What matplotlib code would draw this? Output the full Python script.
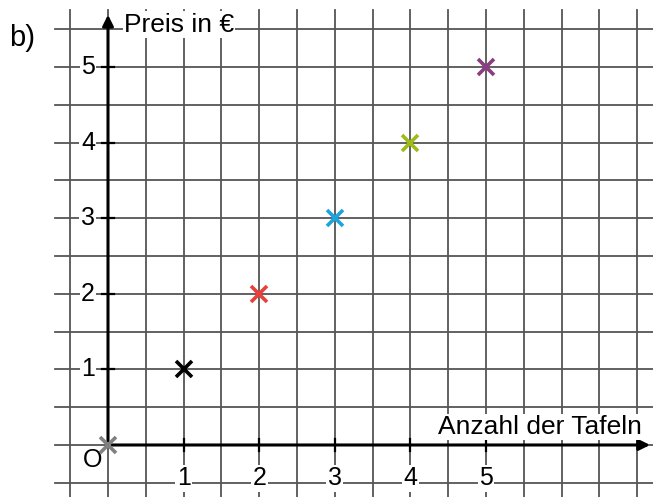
import matplotlib.pyplot as plt
import numpy as np

plt.rcParams['font.family'] = ['Liberation Sans', 'DejaVu Sans']

# data: number of bars -> price in euro
tafeln = [0, 1, 2, 3, 4, 5]
preis = [0, 1, 2, 3, 4, 5]
farben = ['#808080', '#000000', '#e8403a', '#1fa3dc', '#9cbc1a', '#8a3d80']
ticks = [1, 2, 3, 4, 5]

fig = plt.figure(figsize=(6.53, 4.97), dpi=100)
ax = fig.add_axes([0, 0, 1, 1])
ax.set_xlim(-1.4286, 7.209)
ax.set_ylim(-0.688, 5.886)
ax.axis('off')

# grid every half unit
for gx in np.arange(-0.5, 7.01, 0.5):
    ax.plot([gx, gx], [-0.7, 5.75], color='#555555', lw=1.3, zorder=1)
for gy in np.arange(-0.5, 5.51, 0.5):
    ax.plot([-0.70, 7.3], [gy, gy], color='#555555', lw=1.3, zorder=1)

# axes with arrows
ax.annotate('', xy=(7.17, 0), xytext=(0, 0),
            arrowprops=dict(arrowstyle='-|>', color='black', lw=2.2,
                            mutation_scale=16, shrinkA=0, shrinkB=0), zorder=3)
ax.annotate('', xy=(0, 5.69), xytext=(0, 0),
            arrowprops=dict(arrowstyle='-|>', color='black', lw=2.2,
                            mutation_scale=16, shrinkA=0, shrinkB=0), zorder=3)

box = dict(facecolor='white', edgecolor='none', pad=1)
for t in ticks:
    ax.plot([t, t], [-0.08, 0.08], color='black', lw=1.6, zorder=3)
    ax.plot([-0.08, 0.08], [t, t], color='black', lw=1.6, zorder=3)
    ax.text(t, -0.44, str(t), ha='center', va='center', fontsize=18, bbox=box, zorder=4)
    ax.text(-0.265, t, str(t), ha='center', va='center', fontsize=18, bbox=box, zorder=4)

ax.text(-0.2, -0.2, 'O', ha='center', va='center', fontsize=18, zorder=4)
ax.text(0.21, 5.56, 'Preis in €', ha='left', va='center', fontsize=19, bbox=box, zorder=4)
ax.text(4.37, 0.24, 'Anzahl der Tafeln', ha='left', va='center', fontsize=19, bbox=box, zorder=4)
ax.text(-1.31, 5.38, 'b)', ha='left', va='center', fontsize=21, zorder=4)

for x, y, c in zip(tafeln, preis, farben):
    ax.plot(x, y, marker='x', color=c, markersize=12, mew=2.6, zorder=5)

fig.savefig('out.png', dpi=100)
